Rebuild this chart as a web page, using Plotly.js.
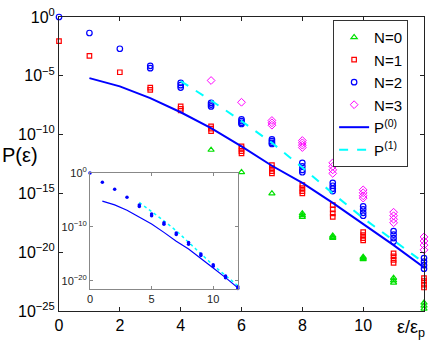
<!DOCTYPE html>
<html>
<head>
<meta charset="utf-8">
<script src="https://cdn.plot.ly/plotly-3.0.1.min.js"></script>
<style>
html,body{margin:0;padding:0;background:#fff;}
#chart{width:436px;height:349px;}
</style>
</head>
<body>
<div id="chart"></div>
<script>
// x values: epsilon / epsilon_p
const eps = [0,1,2,3,4,5,6,7,8,9,10,11,12];
const xTickVals = [0,2,4,6,8,10];

// log10 P values (several overlapping realisations per x)
const n0_log = [[],[],[],[],[],[-11.3],[-13.2],[-15.0],[-16.7,-16.85,-17.0],[-18.6,-18.7,-18.8],[-20.4,-20.5,-20.6],[-22.2,-22.4,-22.6],[-24.3,-24.55,-24.8]];
const n1_log = [[-2.05],[-3.3],[-4.7],[-6.0,-6.2],[-7.6,-7.8,-7.95],[-9.3,-9.5,-9.7],[-11.0,-11.2,-11.4,-11.6],[-12.6,-12.85,-13.1,-13.3],[-14.3,-14.55,-14.8,-15.0],[-16.0,-16.35,-16.7,-17.0],[-18.3,-18.55,-18.8,-19.0],[-20.1,-20.35,-20.65,-20.9],[-22.2,-22.45,-22.75,-23.0]];
const n2_log = [[0],[-1.36],[-2.7],[-4.15,-4.35],[-5.6,-5.8,-6.0],[-7.3,-7.45,-7.6],[-8.7,-8.85,-9.0,-9.1],[-10.4,-10.55,-10.7,-10.8],[-12.4,-12.7,-13.0,-13.2],[-14.1,-14.35,-14.6,-14.8],[-16.1,-16.35,-16.65,-16.9],[-18.2,-18.5,-18.8,-19.1],[-20.5,-20.8,-21.1,-21.4]];
const n3_log = [[],[],[],[],[],[-5.4],[-7.25],[-8.8,-9.0,-9.2],[-10.5,-10.7,-10.9,-11.1],[-12.4,-12.7,-13.0,-13.3],[-14.7,-14.95,-15.2,-15.4],[-16.6,-16.9,-17.2,-17.5],[-18.7,-19.05,-19.4,-19.8]];

const p0_eps = [1,2,3,4,5,6,7,8,9,10,11,12];
const p0_log = [-5.2,-5.9,-6.9,-8.1,-9.45,-11.0,-12.65,-14.1,-15.8,-17.6,-19.4,-21.3];
const p1_eps = [4,5,6,7,8,9,10,11,12];
const p1_log = [-5.45,-7.1,-8.85,-10.7,-12.8,-15.0,-17.1,-19.0,-20.9];

// inset dots
const ins_log = [[0],[-1.7],[-3.0],[-4.5],[-5.9,-6.2],[-7.6,-7.9],[-9.2,-9.5],[-11.1,-11.4],[-12.9,-13.2],[-15.0,-15.3],[-17.0,-17.3],[-19.1,-19.4],[-21.1,-21.4]];

const yTickVals = [1,1e-5,1e-10,1e-15,1e-20,1e-25];
const yTickText = ['10<sup>0</sup>','10<sup>\u22125</sup>','10<sup>\u221210</sup>','10<sup>\u221215</sup>','10<sup>\u221220</sup>','10<sup>\u221225</sup>'];
const yTickVals2 = [1,1e-10,1e-20];
const yTickText2 = ['10<sup>0</sup>','10<sup>\u221210</sup>','10<sup>\u221220</sup>'];

function expand(logs){
  const x=[], y=[];
  logs.forEach((arr,i)=>arr.forEach(v=>{x.push(eps[i]); y.push(Math.pow(10,v));}));
  return {x,y};
}
const pw = a => a.map(v=>Math.pow(10,v));

const FONT = 'Liberation Sans, Arial, Helvetica, sans-serif';
const d0=expand(n0_log), d1=expand(n1_log), d2=expand(n2_log), d3=expand(n3_log), di=expand(ins_log);

const traces = [
  {x:d0.x,y:d0.y,mode:'markers',name:'N=0',cliponaxis:false,
   marker:{symbol:'triangle-up-open',size:5.5,color:'#00e000',line:{width:1.2}}},
  {x:d1.x,y:d1.y,mode:'markers',name:'N=1',cliponaxis:false,
   marker:{symbol:'square-open',size:4.5,color:'#ff0000',line:{width:1.2}}},
  {x:d2.x,y:d2.y,mode:'markers',name:'N=2',cliponaxis:false,
   marker:{symbol:'circle-open',size:5.5,color:'#0000ff',line:{width:1.2}}},
  {x:d3.x,y:d3.y,mode:'markers',name:'N=3',cliponaxis:false,
   marker:{symbol:'diamond-open',size:6,color:'#ff00ff',line:{width:1}}},
  {x:p0_eps,y:pw(p0_log),mode:'lines',name:'P<sup>(0)</sup>',
   line:{color:'#0000ff',width:2}},
  {x:p1_eps,y:pw(p1_log),mode:'lines',name:'P<sup>(1)</sup>',
   line:{color:'#00ffff',width:2,dash:'dash'}},
  // inset
  {x:p0_eps,y:pw(p0_log),mode:'lines',xaxis:'x2',yaxis:'y2',showlegend:false,
   line:{color:'#0000ff',width:1.2}},
  {x:p1_eps,y:pw(p1_log),mode:'lines',xaxis:'x2',yaxis:'y2',showlegend:false,
   line:{color:'#00ffff',width:1.5,dash:'dot'}},
  {x:di.x,y:di.y,mode:'markers',xaxis:'x2',yaxis:'y2',showlegend:false,cliponaxis:false,
   marker:{symbol:'circle',size:3.5,color:'#0000ff'}}
];

const layout = {
  width:436, height:349,
  margin:{l:59,r:12,t:17,b:38},
  paper_bgcolor:'#fff', plot_bgcolor:'#fff',
  font:{family:FONT,color:'#000',size:16},
  showlegend:true,
  legend:{x:0.751,y:0.99,xanchor:'left',yanchor:'top',bgcolor:'#fff',
    bordercolor:'#333',borderwidth:1,font:{size:15,family:FONT},tracegroupgap:0,
    itemwidth:30},
  xaxis:{range:[0,12],tickvals:xTickVals,showgrid:false,zeroline:false,
    showline:true,mirror:'ticks',linecolor:'#222',linewidth:1,
    ticks:'inside',ticklen:4,tickcolor:'#222',tickfont:{size:16}},
  yaxis:{type:'log',range:[-25,0],showgrid:false,zeroline:false,
    tickvals:yTickVals,ticktext:yTickText,
    showline:true,mirror:'ticks',linecolor:'#222',linewidth:1,
    ticks:'inside',ticklen:4,tickcolor:'#222',tickfont:{size:16}},
  xaxis2:{domain:[0.085,0.49],anchor:'y2',range:[0,12],dtick:5,tick0:0,
    showgrid:false,zeroline:false,showline:true,mirror:'ticks',linecolor:'#888',
    ticks:'inside',ticklen:3,tickcolor:'#888',tickfont:{size:11,color:'#222'}},
  yaxis2:{domain:[0.075,0.469],anchor:'x2',type:'log',range:[-21.5,0],
    tickvals:yTickVals2,ticktext:yTickText2,
    showgrid:false,zeroline:false,showline:true,mirror:'ticks',linecolor:'#888',
    ticks:'inside',ticklen:3,tickcolor:'#888',tickfont:{size:11,color:'#222'}},
  annotations:[
    {xref:'paper',yref:'paper',x:-0.107,y:0.531,xanchor:'center',yanchor:'middle',
     text:'P(\u03b5)',showarrow:false,font:{size:20,family:FONT}},
    {xref:'paper',yref:'paper',x:0.964,y:-0.06,xanchor:'center',yanchor:'middle',
     text:'\u03b5/\u03b5<sub>p</sub>',showarrow:false,font:{size:18,family:FONT}}
  ]
};

Plotly.newPlot('chart', traces, layout, {displayModeBar:false,staticPlot:true});
</script>
</body>
</html>
